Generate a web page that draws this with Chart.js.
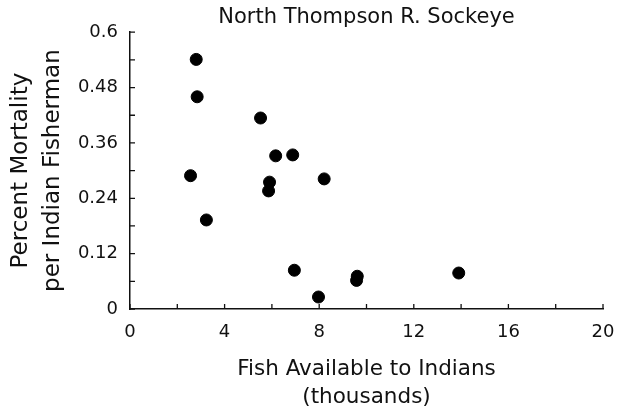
<!DOCTYPE html>
<html lang="en">
<head>
  <meta charset="UTF-8" />
  <title>North Thompson R. Sockeye</title>
  <script src="https://cdn.jsdelivr.net/npm/chart.js"></script>
  <style>
    html, body { margin: 0; padding: 0; background: #fff; }
    #wrap { width: 630px; height: 414px; }
  </style>
</head>
<body>
  <div id="wrap"><canvas id="scatterChart" width="630" height="414"></canvas></div>
  <script>
    // values (x in thousands of fish)
    const fishAvailable = [2.80, 2.84, 2.56, 3.23, 5.52, 6.16, 6.88, 5.90, 5.86, 8.21, 6.95, 7.97, 9.61, 9.58, 13.9];
    const mortality     = [0.541, 0.460, 0.289, 0.193, 0.414, 0.332, 0.334, 0.275, 0.256, 0.282, 0.084, 0.026, 0.071, 0.062, 0.078];
    const xTickLabels = ['0', '4', '8', '12', '16', '20'];
    const yTickLabels = ['0', '0.12', '0.24', '0.36', '0.48', '0.6'];

    const ink = '#111';
    const fontFamily = "'DejaVu Sans', sans-serif";

    // ticks in the original point inward, so draw them ourselves
    const inwardTicks = {
      id: 'inwardTicks',
      afterDraw(chart) {
        const { ctx, scales: { x, y } } = chart;
        ctx.save();
        ctx.strokeStyle = ink;
        ctx.lineWidth = 1.3;
        ctx.beginPath();
        x.ticks.forEach(t => {
          const px = x.getPixelForValue(t.value);
          ctx.moveTo(px, y.bottom);
          ctx.lineTo(px, y.bottom - 5);
        });
        y.ticks.forEach(t => {
          const py = y.getPixelForValue(t.value);
          ctx.moveTo(x.left, py);
          ctx.lineTo(x.left + 5, py);
        });
        ctx.stroke();
        ctx.restore();
      }
    };

    const ctx = document.getElementById('scatterChart').getContext('2d');
    new Chart(ctx, {
      type: 'scatter',
      data: {
        datasets: [{
          data: fishAvailable.map((v, i) => ({ x: v, y: mortality[i] })),
          backgroundColor: '#000',
          borderColor: '#000',
          pointRadius: 6,
          pointHoverRadius: 6
        }]
      },
      options: {
        responsive: false,
        animation: false,
        layout: { padding: { left: 0, right: 27, top: 0, bottom: 0 } },
        plugins: {
          legend: { display: false },
          tooltip: { enabled: false },
          title: {
            display: true,
            text: 'North Thompson R. Sockeye',
            fullSize: false,
            color: ink,
            font: { family: fontFamily, size: 21, weight: 'normal', lineHeight: 1.2 },
            padding: { top: 5, bottom: 2 }
          }
        },
        scales: {
          x: {
            type: 'linear',
            min: 0,
            max: 20,
            afterFit(scale) { scale.height = 105; },
            border: { color: ink, width: 1.5 },
            grid: { display: false, drawTicks: false },
            ticks: {
              stepSize: 2,
              autoSkip: false,
              maxRotation: 0,
              padding: 13,
              color: ink,
              font: { family: fontFamily, size: 18 },
              callback: (value) => xTickLabels.includes(String(value)) ? String(value) : ''
            },
            title: {
              display: true,
              text: ['Fish Available to Indians', '(thousands)'],
              color: ink,
              font: { family: fontFamily, size: 21.5, lineHeight: 1.28 },
              padding: { top: 0, bottom: 3 }
            }
          },
          y: {
            type: 'linear',
            min: 0,
            max: 0.6,
            afterFit(scale) { scale.width = 130; },
            border: { color: ink, width: 1.5 },
            grid: { display: false, drawTicks: false },
            ticks: {
              stepSize: 0.06,
              autoSkip: false,
              padding: 12,
              color: ink,
              font: { family: fontFamily, size: 18 },
              callback: (value) => {
                const s = String(Math.round(value * 100) / 100);
                return yTickLabels.includes(s) ? s : '';
              }
            },
            title: {
              display: true,
              text: ['Percent Mortality', 'per Indian Fisherman'],
              color: ink,
              font: { family: fontFamily, size: 23, lineHeight: 1.35 },
              padding: { top: 6, bottom: 0 }
            }
          }
        }
      },
      plugins: [inwardTicks]
    });
  </script>
</body>
</html>
